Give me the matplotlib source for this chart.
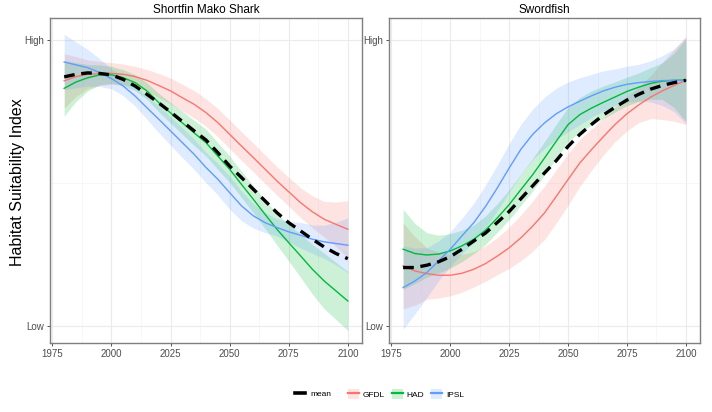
import numpy as np
import matplotlib
matplotlib.use("Agg")
import matplotlib.pyplot as plt
from matplotlib.lines import Line2D
from matplotlib.patches import Patch

plt.rcParams['font.family'] = ['Liberation Sans', 'DejaVu Sans']

# years of the smoothed fits
years = np.arange(1980, 2101, 5)

panels = ["Shortfin Mako Shark", "Swordfish"]
models = ["GFDL", "HAD", "IPSL"]
model_colors = {"GFDL": "#F8766D", "HAD": "#00BA38", "IPSL": "#619CFF"}

# Shortfin Mako Shark (0 = Low, 1 = High)
mako_gfdl = [0.857, 0.872, 0.880, 0.883, 0.883, 0.880, 0.872, 0.859, 0.841, 0.822, 0.798, 0.775, 0.746,
             0.711, 0.670, 0.629, 0.589, 0.548, 0.507, 0.469, 0.431, 0.399, 0.373, 0.355, 0.338]
mako_had = [0.831, 0.853, 0.868, 0.878, 0.878, 0.868, 0.851, 0.822, 0.781, 0.745, 0.710, 0.675, 0.641,
            0.594, 0.548, 0.495, 0.443, 0.390, 0.338, 0.291, 0.245, 0.198, 0.157, 0.122, 0.087]
mako_ipsl = [0.923, 0.913, 0.903, 0.886, 0.865, 0.839, 0.804, 0.763, 0.723, 0.682, 0.641, 0.600, 0.554,
             0.513, 0.466, 0.420, 0.385, 0.361, 0.344, 0.329, 0.317, 0.303, 0.294, 0.288, 0.282]
mako_mean = [0.871, 0.880, 0.885, 0.883, 0.878, 0.862, 0.839, 0.810, 0.780, 0.748, 0.715, 0.682, 0.650,
             0.606, 0.559, 0.519, 0.478, 0.437, 0.396, 0.361, 0.332, 0.303, 0.276, 0.253, 0.235]
# half widths of the confidence bands
mako_gfdl_se = [0.095, 0.070, 0.050, 0.042, 0.038, 0.036, 0.036, 0.038, 0.042, 0.045, 0.047, 0.048, 0.048,
                0.049, 0.050, 0.050, 0.050, 0.050, 0.050, 0.050, 0.052, 0.056, 0.062, 0.078, 0.100]
mako_had_se = [0.097, 0.068, 0.046, 0.035, 0.030, 0.028, 0.028, 0.029, 0.032, 0.036, 0.040, 0.044, 0.047,
               0.047, 0.046, 0.046, 0.047, 0.050, 0.055, 0.064, 0.075, 0.087, 0.097, 0.100, 0.103]
mako_ipsl_se = [0.097, 0.080, 0.064, 0.048, 0.036, 0.034, 0.035, 0.040, 0.047, 0.050, 0.052, 0.053, 0.053,
                0.055, 0.058, 0.052, 0.043, 0.035, 0.030, 0.035, 0.045, 0.050, 0.058, 0.075, 0.096]

# Swordfish
sword_gfdl = [0.210, 0.192, 0.183, 0.177, 0.177, 0.184, 0.198, 0.218, 0.244, 0.273, 0.308, 0.349, 0.395,
              0.453, 0.512, 0.570, 0.617, 0.662, 0.705, 0.742, 0.773, 0.800, 0.822, 0.841, 0.859]
sword_had = [0.268, 0.253, 0.248, 0.251, 0.262, 0.280, 0.303, 0.335, 0.378, 0.424, 0.477, 0.529, 0.587,
             0.646, 0.704, 0.739, 0.762, 0.782, 0.801, 0.820, 0.835, 0.848, 0.856, 0.859, 0.860]
sword_ipsl = [0.134, 0.157, 0.186, 0.227, 0.268, 0.315, 0.361, 0.418, 0.483, 0.552, 0.618, 0.670, 0.710,
              0.742, 0.766, 0.786, 0.805, 0.822, 0.835, 0.845, 0.851, 0.855, 0.858, 0.859, 0.858]
sword_mean = [0.204, 0.204, 0.212, 0.224, 0.242, 0.268, 0.297, 0.325, 0.362, 0.400, 0.445, 0.490, 0.535,
              0.578, 0.628, 0.670, 0.705, 0.738, 0.765, 0.790, 0.810, 0.828, 0.841, 0.851, 0.859]
sword_gfdl_se = [0.150, 0.120, 0.090, 0.080, 0.072, 0.066, 0.062, 0.062, 0.065, 0.072, 0.080, 0.088, 0.093,
                 0.093, 0.090, 0.082, 0.072, 0.064, 0.060, 0.060, 0.062, 0.075, 0.100, 0.125, 0.155]
sword_had_se = [0.140, 0.105, 0.078, 0.066, 0.060, 0.055, 0.050, 0.050, 0.050, 0.052, 0.055, 0.057, 0.058,
                0.060, 0.060, 0.060, 0.060, 0.057, 0.053, 0.050, 0.050, 0.055, 0.064, 0.095, 0.145]
sword_ipsl_se = [0.146, 0.115, 0.087, 0.070, 0.060, 0.062, 0.068, 0.075, 0.080, 0.085, 0.087, 0.088, 0.090,
                 0.089, 0.087, 0.082, 0.075, 0.070, 0.064, 0.063, 0.064, 0.072, 0.087, 0.110, 0.150]

series = {
    "Shortfin Mako Shark": ({"GFDL": (mako_gfdl, mako_gfdl_se), "HAD": (mako_had, mako_had_se),
                             "IPSL": (mako_ipsl, mako_ipsl_se)}, mako_mean),
    "Swordfish": ({"GFDL": (sword_gfdl, sword_gfdl_se), "HAD": (sword_had, sword_had_se),
                   "IPSL": (sword_ipsl, sword_ipsl_se)}, sword_mean),
}

x_ticks = [1975, 2000, 2025, 2050, 2075, 2100]
y_ticks = [0, 1]
y_tick_labels = ["Low", "High"]

fig = plt.figure(figsize=(7.12, 4.12), dpi=100)
ax_pos = [[50 / 712, 1 - 343 / 412, 312 / 712, 325 / 412],
          [389 / 712, 1 - 343 / 412, 311 / 712, 325 / 412]]

mean_style = dict(color="black", lw=2.4, linestyle=(0, (3.2, 2.0)), dash_capstyle="butt")

for pos, name in zip(ax_pos, panels):
    ax = fig.add_axes(pos)
    fits, mean = series[name]
    for m in models:
        val, se = np.array(fits[m][0]), np.array(fits[m][1])
        ax.fill_between(years, val - se, val + se, color=model_colors[m], alpha=0.2, lw=0)
    for m in models:
        ax.plot(years, fits[m][0], color=model_colors[m], lw=1.0)
    ax.plot(years, mean, **mean_style)

    ax.set_xlim(1974, 2106)
    ax.set_ylim(-0.06, 1.077)
    ax.set_xticks(x_ticks)
    ax.set_xticks([1987.5, 2012.5, 2037.5, 2062.5, 2087.5], minor=True)
    ax.set_yticks(y_ticks)
    ax.set_yticklabels(y_tick_labels)
    ax.set_yticks([0.5], minor=True)
    ax.grid(True, which="major", color="#EBEBEB", lw=0.8)
    ax.grid(True, which="minor", color="#F4F4F4", lw=0.5)
    ax.set_axisbelow(True)
    ax.tick_params(which="major", length=2.5, width=0.6, color="#333333",
                   labelsize=7, labelcolor="#4D4D4D", pad=1.5)
    ax.tick_params(which="minor", length=0)
    for s in ax.spines.values():
        s.set_color("#7F7F7F")
        s.set_linewidth(1.0)
    ax.set_title(name, fontsize=8.5, pad=3.5)

fig.text(18 / 712, 1 - 182 / 412, "Habitat Suitability Index", rotation=90,
         ha="center", va="center", fontsize=11.5)

# legends
mean_handle = Line2D([], [], color="black", lw=2.6)
fig.legend(handles=[mean_handle], labels=["mean"], loc="center",
           bbox_to_anchor=(313 / 712, 1 - 394 / 412), frameon=False, fontsize=6,
           handlelength=1.2, handletextpad=0.6)
model_handles = [(Patch(facecolor=model_colors[m], alpha=0.2, lw=0),
                  Line2D([], [], color=model_colors[m], lw=1.6)) for m in models]
fig.legend(handles=model_handles, labels=models, loc="center",
           bbox_to_anchor=(406 / 712, 1 - 394 / 412), frameon=False, fontsize=6, ncol=3,
           handlelength=1.3, handleheight=1.6, handletextpad=0.5, columnspacing=0.8)

fig.savefig("out.png", dpi=100)
